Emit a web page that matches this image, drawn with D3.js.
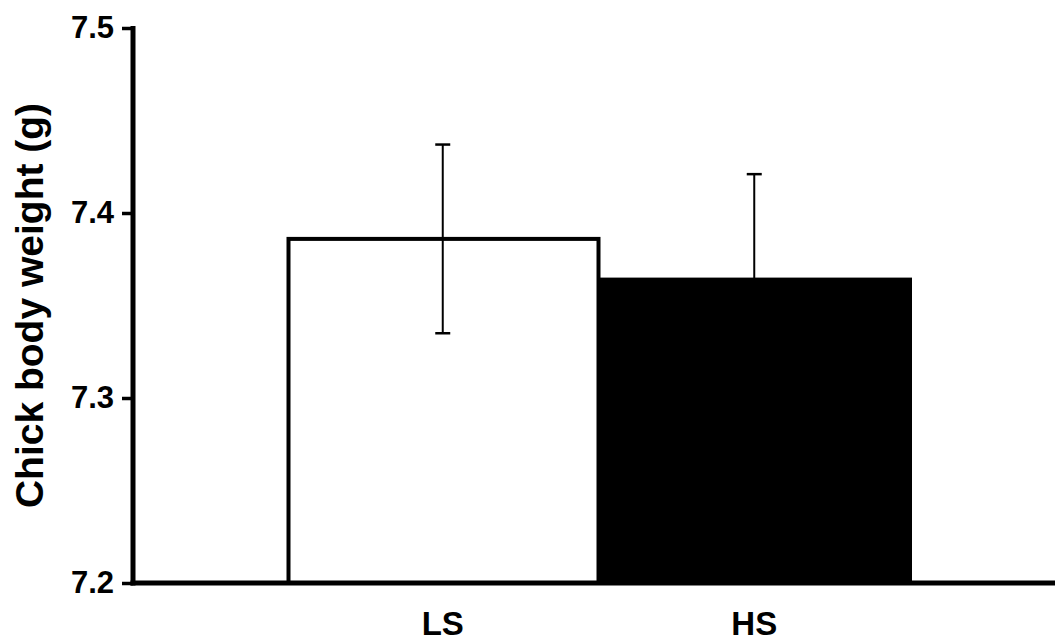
<!DOCTYPE html>
<html>
<head>
<meta charset="utf-8">
<script src="https://cdn.jsdelivr.net/npm/d3@7"></script>
<style>
  html, body { margin: 0; padding: 0; background: #fff; }
  svg { display: block; }
  text { font-family: "Liberation Sans", Arial, Helvetica, sans-serif; font-weight: bold; fill: #000; }
</style>
</head>
<body>
<svg id="chart" width="1055" height="644"></svg>
<script>
// ---- data ----
const categories = ["LS", "HS"];
const means = [7.386, 7.364];
const errors = [0.051, 0.057];
const barFills = ["#ffffff", "#000000"];
const yTicks = [7.2, 7.3, 7.4, 7.5];
const yLabel = "Chick body weight (g)";

// ---- layout ----
const W = 1055, H = 644;
const axisX = 133, axisY = 583, topY = 28;
const svg = d3.select("#chart");

const y = d3.scaleLinear().domain([7.2, 7.5]).range([axisY, topY]);
const x = d3.scaleBand().domain(categories).range([287, 910]).paddingInner(0).paddingOuter(0);

const data = categories.map((c, i) => ({ cat: c, mean: means[i], err: errors[i], fill: barFills[i] }));

// bars
svg.append("g").selectAll("rect").data(data).join("rect")
  .attr("x", d => x(d.cat) + 1.5)
  .attr("y", d => y(d.mean))
  .attr("width", x.bandwidth() - 1.5)
  .attr("height", d => y(7.2) - y(d.mean))
  .attr("fill", d => d.fill)
  .attr("stroke", "#000")
  .attr("stroke-width", 4);

// error bars
const eb = svg.append("g").selectAll("g").data(data).join("g")
  .attr("transform", d => `translate(${x(d.cat) + x.bandwidth() / 2},0)`);
eb.append("line")
  .attr("x1", 0).attr("x2", 0)
  .attr("y1", d => y(d.mean + d.err)).attr("y2", d => y(d.mean - d.err))
  .attr("stroke", "#000").attr("stroke-width", 2);
eb.append("line")
  .attr("x1", -7.5).attr("x2", 7.5)
  .attr("y1", d => y(d.mean + d.err)).attr("y2", d => y(d.mean + d.err))
  .attr("stroke", "#000").attr("stroke-width", 2.5);
eb.append("line")
  .attr("x1", -7.5).attr("x2", 7.5)
  .attr("y1", d => y(d.mean - d.err)).attr("y2", d => y(d.mean - d.err))
  .attr("stroke", "#000").attr("stroke-width", 2.5);

// y axis
const yAxis = d3.axisLeft(y).tickValues(yTicks).tickFormat(d3.format(".1f")).tickSize(11).tickPadding(8);
const gy = svg.append("g").attr("transform", `translate(${axisX},0)`).call(yAxis);
gy.select(".domain").remove();
gy.selectAll(".tick line").attr("stroke", "#000").attr("stroke-width", 3.5);
gy.selectAll(".tick text")
  .attr("font-size", 31).attr("dy", null).attr("y", 9)
  .style("font-family", "'Liberation Sans', Arial, sans-serif").style("font-weight", "bold");
svg.append("line")
  .attr("x1", axisX).attr("x2", axisX).attr("y1", topY - 2).attr("y2", axisY + 2.5)
  .attr("stroke", "#000").attr("stroke-width", 5);

// x axis
svg.append("line")
  .attr("x1", axisX - 2.5).attr("x2", W).attr("y1", axisY).attr("y2", axisY)
  .attr("stroke", "#000").attr("stroke-width", 5);
const xAxis = d3.axisBottom(x).tickSize(0).tickPadding(0);
const gx = svg.append("g").attr("transform", `translate(0,${axisY})`).call(xAxis);
gx.select(".domain").remove();
gx.selectAll(".tick text")
  .attr("font-size", 33).attr("dy", null).attr("y", 52)
  .style("font-family", "'Liberation Sans', Arial, sans-serif").style("font-weight", "bold");

// y label
svg.append("text")
  .attr("transform", `translate(43,${(topY + axisY) / 2}) rotate(-90)`)
  .attr("text-anchor", "middle")
  .attr("font-size", 39)
  .text(yLabel);
</script>
</body>
</html>
